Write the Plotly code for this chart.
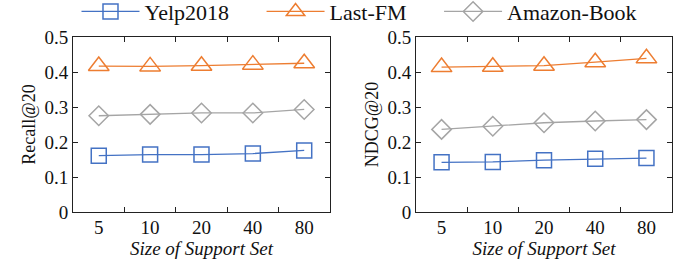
import plotly.graph_objects as go
from plotly.subplots import make_subplots

sizes = ["5", "10", "20", "40", "80"]
series_names = ["Yelp2018", "Last-FM", "Amazon-Book"]
recall_yelp = [0.161, 0.164, 0.164, 0.167, 0.176]
recall_lastfm = [0.417, 0.416, 0.418, 0.421, 0.425]
recall_amazon = [0.275, 0.279, 0.283, 0.283, 0.293]
ndcg_yelp = [0.142, 0.143, 0.148, 0.152, 0.154]
ndcg_lastfm = [0.414, 0.415, 0.418, 0.428, 0.439]
ndcg_amazon = [0.236, 0.245, 0.255, 0.260, 0.264]
y_ticks = [0, 0.1, 0.2, 0.3, 0.4, 0.5]
y_ticktext = ["0", "0.1", "0.2", "0.3", "0.4", "0.5"]

colors = ["#4472C4", "#ED7D31", "#A5A5A5"]
symbols = ["square-open", "triangle-up-open", "diamond-open"]
msizes = [15, 18, 15]
pad = ["\u00a0" * 5, "\u00a0" * 5, ""]

fig = make_subplots(rows=1, cols=2)
panels = [(recall_yelp, recall_lastfm, recall_amazon), (ndcg_yelp, ndcg_lastfm, ndcg_amazon)]
for c, data in enumerate(panels, start=1):
    for i, vals in enumerate(data):
        fig.add_trace(go.Scatter(
            x=sizes, y=vals, name=series_names[i] + pad[i], mode="lines+markers",
            line=dict(color=colors[i], width=1.3),
            marker=dict(symbol=symbols[i], size=msizes[i], color=colors[i],
                        line=dict(width=1.5, color=colors[i])),
            showlegend=(c == 1)), row=1, col=c)

font = "Liberation Serif"
axis_common = dict(showline=True, linecolor="#222", linewidth=1, mirror="ticks",
                   ticks="inside", ticklen=5, tickcolor="#222", showgrid=False, zeroline=False,
                   automargin=False,
                   tickfont=dict(family=font, size=19, color="#111"))
fig.update_xaxes(type="category", tickson="boundaries", range=[-0.5, 4.5],
                 ticklabelstandoff=-2,
                 title=dict(text="<i>Size of Support Set</i>", font=dict(family=font, size=19, color="#111"), standoff=0),
                 **axis_common)
fig.update_yaxes(range=[0, 0.5], tickvals=y_ticks, ticktext=y_ticktext, **axis_common)
fig.update_layout(
    xaxis=dict(domain=[0.107, 0.483]),
    xaxis2=dict(domain=[0.609, 0.984]),
    yaxis=dict(domain=[0, 1], title=dict(text="Recall@20", font=dict(family=font, size=18, color="#111"), standoff=4)),
    yaxis2=dict(domain=[0, 1], title=dict(text="NDCG@20", font=dict(family=font, size=18, color="#111"), standoff=4)),
    width=683, height=259, margin=dict(l=0, r=0, t=37, b=47, autoexpand=False),
    paper_bgcolor="white", plot_bgcolor="white",
    legend=dict(orientation="h", x=0.112, xanchor="left", y=0.955, yanchor="middle", yref="container",
                bgcolor="rgba(0,0,0,0)",
                font=dict(family=font, size=22, color="#111"), itemwidth=58, tracegroupgap=0),
)
fig.write_html("out.html", config={"displayModeBar": False},
               post_script="document.body.style.margin='0';document.body.style.overflow='hidden';")
